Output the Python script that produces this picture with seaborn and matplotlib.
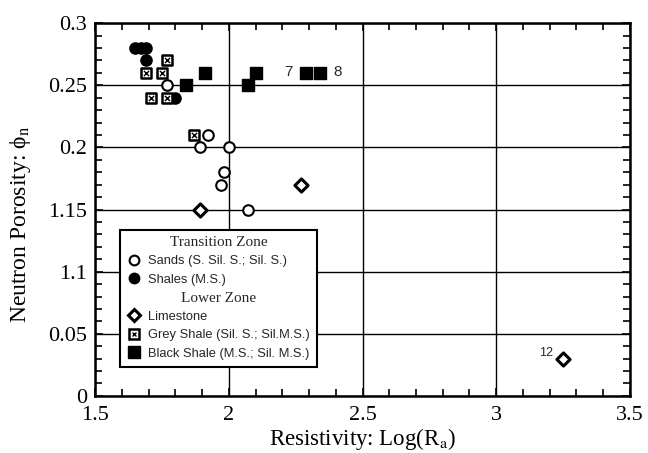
import matplotlib
matplotlib.use("Agg")
import matplotlib.pyplot as plt
from matplotlib.lines import Line2D
import seaborn as sns
import numpy as np

# ---- data ----
sands_x = [1.77, 1.92, 1.89, 2.00, 1.98, 1.97, 2.07]
sands_y = [0.25, 0.21, 0.20, 0.20, 0.18, 0.17, 0.15]

shales_x = [1.65, 1.67, 1.69, 1.69, 1.80]
shales_y = [0.28, 0.28, 0.28, 0.27, 0.24]

lime_x = [1.89, 2.27, 3.25]
lime_y = [0.15, 0.17, 0.03]
lime_labels = ["", "", "12"]

grey_x = [1.77, 1.69, 1.75, 1.71, 1.77, 1.87]
grey_y = [0.27, 0.26, 0.26, 0.24, 0.24, 0.21]

black_x = [1.91, 2.10, 1.84, 2.07, 2.29, 2.34]
black_y = [0.26, 0.26, 0.25, 0.25, 0.26, 0.26]
black_labels = ["", "", "", "", "7", "8"]

x_ticks = [1.5, 2.0, 2.5, 3.0, 3.5]
x_ticklabels = ["1.5", "2", "2.5", "3", "3.5"]
y_ticks = [0.0, 0.05, 0.10, 0.15, 0.20, 0.25, 0.30]
y_ticklabels = ["0", "0.05", "1.1", "1.15", "0.2", "0.25", "0.3"]

sns.set_theme(style="white")
plt.rcParams["font.family"] = ["Liberation Serif", "DejaVu Serif"]
plt.rcParams["mathtext.fontset"] = "stix"

fig, ax = plt.subplots(figsize=(6.48, 4.53), dpi=100)
fig.subplots_adjust(left=0.147, right=0.972, top=0.949, bottom=0.126)

# ---- marks ----
sns.scatterplot(x=sands_x, y=sands_y, ax=ax, marker="o", s=58,
                facecolor="white", edgecolor="black", linewidth=1.5, zorder=4, legend=False)
sns.scatterplot(x=shales_x, y=shales_y, ax=ax, marker="o", s=65,
                color="black", edgecolor="black", linewidth=1, zorder=4, legend=False)
sns.scatterplot(x=lime_x, y=lime_y, ax=ax, marker="D", s=45,
                facecolor="white", edgecolor="black", linewidth=2.2, zorder=4, legend=False)
sns.scatterplot(x=grey_x, y=grey_y, ax=ax, marker="s", s=60,
                facecolor="white", edgecolor="black", linewidth=1.8, zorder=4, legend=False)
sns.scatterplot(x=grey_x, y=grey_y, ax=ax, marker="x", s=14,
                color="black", linewidth=1.0, zorder=5, legend=False)
sns.scatterplot(x=black_x, y=black_y, ax=ax, marker="s", s=72,
                color="black", edgecolor="black", linewidth=1, zorder=4, legend=False)

for xv, yv, lab in zip(black_x, black_y, black_labels):
    if lab == "7":
        ax.annotate(lab, (xv, yv), xytext=(-13, 0.5), textcoords="offset points",
                    ha="center", va="center", fontsize=11, family="Liberation Sans")
    elif lab == "8":
        ax.annotate(lab, (xv, yv), xytext=(12.5, 0.5), textcoords="offset points",
                    ha="center", va="center", fontsize=11, family="Liberation Sans")
for xv, yv, lab in zip(lime_x, lime_y, lime_labels):
    if lab:
        ax.annotate(lab, (xv, yv), xytext=(-12, 4), textcoords="offset points",
                    ha="center", va="center", fontsize=9, family="Liberation Sans")

# ---- axes ----
ax.set_xlim(1.5, 3.5)
ax.set_ylim(0, 0.3)
ax.set_xticks(x_ticks)
ax.set_xticklabels(x_ticklabels)
ax.set_yticks(y_ticks)
ax.set_yticklabels(y_ticklabels)
ax.set_xticks(np.arange(1.5, 3.5001, 0.1), minor=True)
ax.set_yticks(np.arange(0, 0.3001, 0.01), minor=True)
ax.tick_params(which="both", direction="in", top=True, right=True, bottom=True, left=True,
               colors="black", labelsize=16)
ax.tick_params(which="major", length=6, width=1.2)
ax.tick_params(which="minor", length=5, width=1.2)
ax.tick_params(axis="x", pad=7)
ax.tick_params(axis="y", pad=6)
ax.grid(True, which="major", color="black", linewidth=1.0)
for sp in ax.spines.values():
    sp.set_color("black")
    sp.set_linewidth(1.8)
    sp.set_visible(True)

ax.set_xlabel(r"Resistivity: Log(R$_{\mathrm{a}}$)", fontsize=16.5, color="black", labelpad=1)
ax.set_ylabel("Neutron Porosity: \u03d5$_{\\mathrm{n}}$", fontsize=17, color="black")
ax.yaxis.set_label_coords(-0.117, 0.46)

# ---- legend ----
blank = Line2D([], [], linestyle="none", marker=None)
h_sand = Line2D([], [], linestyle="none", marker="o", markersize=7,
                markerfacecolor="white", markeredgecolor="black", markeredgewidth=1.5)
h_shale = Line2D([], [], linestyle="none", marker="o", markersize=7.5,
                 markerfacecolor="black", markeredgecolor="black")
h_lime = Line2D([], [], linestyle="none", marker="D", markersize=6.5,
                markerfacecolor="white", markeredgecolor="black", markeredgewidth=2.2)
h_grey_a = Line2D([], [], linestyle="none", marker="s", markersize=7.5,
                  markerfacecolor="white", markeredgecolor="black", markeredgewidth=1.8)
h_grey_b = Line2D([], [], linestyle="none", marker="x", markersize=3.5,
                  markeredgecolor="black", markeredgewidth=1.0)
h_black = Line2D([], [], linestyle="none", marker="s", markersize=8.5,
                 markerfacecolor="black", markeredgecolor="black")

handles = [blank, h_sand, h_shale, blank, h_lime, (h_grey_a, h_grey_b), h_black]
labels = ["Transition Zone", "Sands (S. Sil. S.; Sil. S.)", "Shales (M.S.)",
          "Lower Zone", "Limestone", "Grey Shale (Sil. S.; Sil.M.S.)",
          "Black Shale (M.S.; Sil. M.S.)"]
leg = ax.legend(handles, labels, loc="lower left", bbox_to_anchor=(0.047, 0.078),
                borderaxespad=0, frameon=True, fancybox=False, framealpha=1,
                edgecolor="black", prop={"family": "Liberation Sans", "size": 9.3},
                handlelength=1.0, handletextpad=0.6, labelspacing=0.5,
                borderpad=0.55)
leg.get_frame().set_linewidth(1.5)
leg.set_zorder(10)

fig.canvas.draw()
renderer = fig.canvas.get_renderer()
lbbox = leg.get_window_extent(renderer)
inv = ax.transAxes.inverted()
for t in leg.get_texts():
    if t.get_text() in ("Transition Zone", "Lower Zone"):
        tb = t.get_window_extent(renderer)
        cx = (lbbox.x0 + lbbox.x1) / 2
        cy = (tb.y0 + tb.y1) / 2
        ax_pt = inv.transform((cx, cy))
        ax.text(ax_pt[0], ax_pt[1], t.get_text(), transform=ax.transAxes,
                ha="center", va="center", fontsize=11,
                family="Liberation Serif", zorder=11)
        t.set_visible(False)

fig.savefig("out.png", dpi=100, facecolor="white")
